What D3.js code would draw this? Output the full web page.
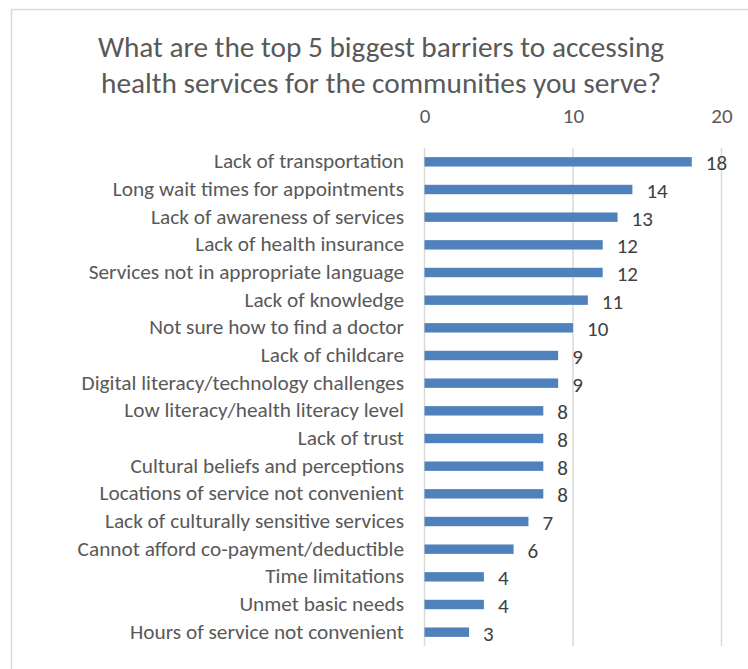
<!DOCTYPE html>
<html>
<head>
<meta charset="utf-8">
<script src="https://cdn.jsdelivr.net/npm/d3@7"></script>
<style>
  html, body { margin: 0; padding: 0; background: #fff; }
  svg { display: block; }
</style>
</head>
<body>
<svg id="chart" width="748" height="669"></svg>
<script>
// Survey responses: barriers to accessing health services
const categories = [
  "Lack of transportation",
  "Long wait times for appointments",
  "Lack of awareness of services",
  "Lack of health insurance",
  "Services not in appropriate language",
  "Lack of knowledge",
  "Not sure how to find a doctor",
  "Lack of childcare",
  "Digital literacy/technology challenges",
  "Low literacy/health literacy level",
  "Lack of trust",
  "Cultural beliefs and perceptions",
  "Locations of service not convenient",
  "Lack of culturally sensitive services",
  "Cannot afford co-payment/deductible",
  "Time limitations",
  "Unmet basic needs",
  "Hours of service not convenient"
];
const counts = [18, 14, 13, 12, 12, 11, 10, 9, 9, 8, 8, 8, 8, 7, 6, 4, 4, 3];
const tickValues = [0, 10, 20];
const titleLines = [
  "What are the top 5 biggest barriers to accessing",
  "health services for the communities you serve?"
];

const FONT = "Carlito, Lato, 'Open Sans', sans-serif";
const svg = d3.select("#chart");

// outer chart frame
svg.append("rect")
  .attr("x", 11.5).attr("y", 9.5)
  .attr("width", 760).attr("height", 700)
  .attr("fill", "#fff")
  .attr("stroke", "#d9d9d9")
  .attr("stroke-width", 1.5);

const x = d3.scaleLinear().domain([0, 20]).range([424.5, 721.5]);
const y = d3.scaleBand().domain(categories).range([148, 646])
  .paddingInner(0.66).paddingOuter(0.33);

// title
svg.append("g").selectAll("text").data(titleLines).join("text")
  .attr("x", 381)
  .attr("y", (d, i) => 57 + i * 36)
  .attr("text-anchor", "middle")
  .attr("font-family", FONT)
  .attr("font-size", 29.3)
  .attr("fill", "#595959")
  .text(d => d);

// vertical gridlines
svg.append("g").selectAll("line").data(tickValues).join("line")
  .attr("x1", d => x(d)).attr("x2", d => x(d))
  .attr("y1", 148).attr("y2", 646)
  .attr("stroke", "#d9d9d9")
  .attr("stroke-width", 1.5);

// top axis labels
const axis = d3.axisTop(x).tickValues(tickValues).tickSize(0).tickPadding(0);
const gAxis = svg.append("g").attr("transform", "translate(0,123)").call(axis);
gAxis.select(".domain").remove();
gAxis.selectAll("text")
  .attr("font-family", FONT)
  .attr("font-size", 21)
  .attr("fill", "#595959")
  .attr("dy", 0);

// category axis
const yAxis = d3.axisLeft(y).tickSize(0).tickPadding(0);
const gY = svg.append("g").attr("transform", "translate(404,0)").call(yAxis);
gY.select(".domain").remove();
gY.selectAll("text")
  .attr("font-family", FONT)
  .attr("font-size", 21.3)
  .attr("fill", "#595959")
  .attr("dy", "0.3em");

// bars
svg.append("g").selectAll("rect").data(categories).join("rect")
  .attr("x", x(0))
  .attr("y", d => y(d))
  .attr("width", (d, i) => x(counts[i]) - x(0))
  .attr("height", y.bandwidth())
  .attr("fill", "#4f81bd");

// value labels
svg.append("g").selectAll("text").data(categories).join("text")
  .attr("x", (d, i) => x(counts[i]) + 14)
  .attr("y", d => y(d) + y.bandwidth() / 2)
  .attr("dy", "0.4em")
  .attr("font-family", FONT)
  .attr("font-size", 21)
  .attr("fill", "#404040")
  .text((d, i) => counts[i]);
</script>
</body>
</html>
